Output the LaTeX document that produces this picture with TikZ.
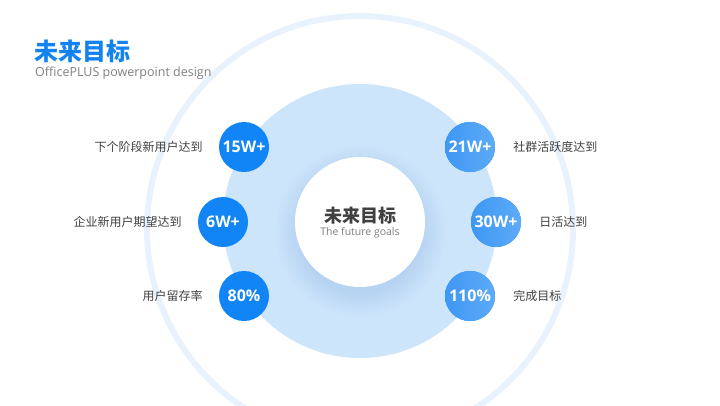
\documentclass[tikz,border=0pt]{standalone}
\usepackage{fontspec}
\setmainfont{Open Sans}
\newfontfamily\cjk{Noto Sans CJK SC}
\usetikzlibrary{positioning}

\definecolor{titleblue}{HTML}{1482F0}
\definecolor{subgray}{HTML}{7F7F7F}
\definecolor{labelgray}{HTML}{404040}
\definecolor{ringblue}{HTML}{E8F2FD}
\definecolor{diskblue}{HTML}{CDE5FB}
\definecolor{shadowblue}{HTML}{B6D3F1}
\definecolor{goalblue}{HTML}{1184F6}
\definecolor{goallight}{HTML}{3E97F4}
\definecolor{goalpale}{HTML}{5DABF7}
\pgfdeclareradialshading{coreshadow}{\pgfpoint{0bp}{0bp}}{color(0bp)=(shadowblue); color(17bp)=(shadowblue); color(24bp)=(diskblue); color(50bp)=(diskblue)}

\tikzset{
  leftgoal/.style={circle, fill=goalblue, minimum size=50pt, inner sep=0pt, text=white, font=\bfseries\fontsize{16}{16}\selectfont},
  rightgoal/.style={leftgoal, left color=goallight, right color=goalpale},
  goaltext/.style={text=labelgray, inner sep=2pt, font=\cjk\fontsize{12}{12}\selectfont}
}

\begin{document}
\begin{tikzpicture}[x=1pt, y=-1pt]
  \useasboundingbox (0,0) rectangle (720,405);
  \clip (0,0) rectangle (720,405);
  % rings
  \draw[ringblue, line width=6pt] (360,229) circle (213);
  \node[circle, fill=diskblue, minimum size=274pt, inner sep=0pt] (disk) at (360,221) {};
  \shade[shading=coreshadow] (360,231) circle (90);
  \node[circle, fill=white, minimum size=130pt, inner sep=0pt] (core) at (360,222) {};
  \node[font=\cjk\bfseries\fontsize{18}{18}\selectfont, text=labelgray, inner sep=0pt] (ctitle) at (360,216) {未来目标};
  \node[font=\fontsize{10.5}{10.5}\selectfont, text=subgray, inner sep=0pt] (csub) at (360,233) {The future goals};
  % title
  \node[anchor=west, inner sep=0pt, text=titleblue, font=\cjk\bfseries\fontsize{24}{24}\selectfont] (title) at (34,51) {未来目标};
  \node[anchor=west, inner sep=0pt, text=subgray, font=\fontsize{12.5}{12.5}\selectfont] (subtitle) at (35,73) {OfficePLUS powerpoint design};
  % left goals
  \node[leftgoal] (g15w) at (244,147) {15W+};
  \node[leftgoal] (g6w) at (223,222) {6W+};
  \node[leftgoal] (g80) at (244,296) {80\%};
  \node[goaltext, left=14pt of g15w] (t15w) {下个阶段新用户达到};
  \node[goaltext, left=14pt of g6w] (t6w) {企业新用户期望达到};
  \node[goaltext, left=14pt of g80] (t80) {用户留存率};
  % right goals
  \node[rightgoal] (g21w) at (470,147) {21W+};
  \node[rightgoal] (g30w) at (496,222) {30W+};
  \node[rightgoal] (g110) at (470,296) {110\%};
  \node[goaltext, right=16pt of g21w] (t21w) {社群活跃度达到};
  \node[goaltext, right=16pt of g30w] (t30w) {日活达到};
  \node[goaltext, right=16pt of g110] (t110) {完成目标};
\end{tikzpicture}
\end{document}
